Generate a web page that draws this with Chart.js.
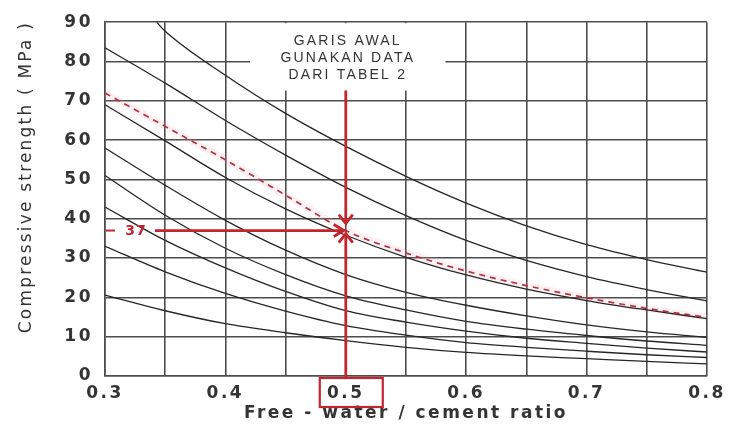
<!DOCTYPE html>
<html>
<head>
<meta charset="utf-8">
<script src="https://cdn.jsdelivr.net/npm/chart.js@4/dist/chart.umd.min.js"></script>
<style>
  html, body { margin: 0; padding: 0; background: #fff; }
  #wrap { width: 729px; height: 424px; }
</style>
</head>
<body>
<div id="wrap"><canvas id="c" width="729" height="424"></canvas></div>
<script>
// ---- data ----
const wcRatio = [0.30, 0.35, 0.40, 0.45, 0.50, 0.55, 0.60, 0.65, 0.70, 0.75, 0.80];
const curveAStart = [0.343, 90];
const curveA = [null, 87.7, 76.5, 66.8, 58.4, 50.8, 44.0, 38.2, 33.4, 29.6, 26.4];
const curveB = [83.5, 74.5, 65.0, 56.2, 48.0, 40.8, 34.5, 29.4, 25.3, 22.0, 19.1];
const curveStart = [72.0, 63.5, 55.0, 46.0, 37.0, 31.3, 26.7, 23.0, 19.9, 17.2, 14.9];
const curveC = [69.0, 59.8, 50.5, 42.5, 35.8, 30.2, 25.7, 22.1, 19.2, 16.8, 14.6];
const curveE = [58.0, 48.5, 39.6, 32.0, 25.8, 21.3, 18.0, 15.3, 13.0, 11.2, 9.8];
const curveF = [51.0, 40.9, 32.5, 25.8, 20.4, 16.8, 13.9, 11.9, 10.3, 8.9, 7.8];
const curveG = [43.0, 34.5, 27.5, 21.5, 16.6, 13.7, 11.4, 9.6, 8.3, 7.1, 6.1];
const curveH = [33.0, 26.5, 21.0, 16.5, 12.8, 10.4, 8.5, 7.3, 6.3, 5.4, 4.7];
const curveI = [20.6, 16.6, 13.3, 11.0, 9.0, 7.3, 6.0, 5.1, 4.4, 3.7, 3.1];
const xTickValues = [0.3, 0.4, 0.5, 0.6, 0.7, 0.8];
const xTickLabels = ['0.3', '0.4', '0.5', '0.6', '0.7', '0.8'];
const noteLines = ['GARIS AWAL', 'GUNAKAN DATA', 'DARI TABEL 2'];
const targetRatio = 0.5;
const readStrength = 37;
const readLabel = '37';

// ---- helpers ----
function toPoints(xs, ys) {
  const pts = [];
  xs.forEach((x, i) => { if (ys[i] !== null) pts.push({x: x, y: ys[i]}); });
  return pts;
}
const solid = (pts) => ({
  data: pts, borderColor: '#262626', borderWidth: 1.3, pointRadius: 0,
  cubicInterpolationMode: 'monotone', fill: false
});

const aPts = [{x: curveAStart[0], y: curveAStart[1]}].concat(toPoints(wcRatio, curveA));
const datasets = [
  solid(aPts),
  solid(toPoints(wcRatio, curveB)),
  {
    data: toPoints(wcRatio, curveStart), borderColor: '#b23340', borderWidth: 1.7,
    borderDash: [6, 5], pointRadius: 0, cubicInterpolationMode: 'monotone', fill: false
  },
  solid(toPoints(wcRatio, curveC)),
  solid(toPoints(wcRatio, curveE)),
  solid(toPoints(wcRatio, curveF)),
  solid(toPoints(wcRatio, curveG)),
  solid(toPoints(wcRatio, curveH)),
  solid(toPoints(wcRatio, curveI))
];

const RED = '#c3262e';
const TXT = '#343434';
const GRID = '#4d4d4d';

const spacingPlugin = {
  id: 'spacing',
  beforeDraw(chart) {
    const ctx = chart.ctx;
    ctx.letterSpacing = '2.5px';
    const ys = chart.scales.y;
    if (!ys.__wrapped) {
      const orig = ys.drawTitle;
      ys.drawTitle = function () {
        ctx.save();
        ctx.letterSpacing = '2.2px';
        ctx.translate(0, -22);
        orig.call(this);
        ctx.restore();
      };
      ys.__wrapped = true;
    }
  },
  beforeDatasetsDraw(chart) {
    const {ctx, scales: {x, y}} = chart;
    // white label panel that interrupts the grid
    const left = x.getPixelForValue(0.4205);
    const right = x.getPixelForValue(0.5828);
    const top = chart.chartArea.top + 1;
    const bottom = y.getPixelForValue(72.6);
    ctx.save();
    ctx.fillStyle = '#ffffff';
    ctx.fillRect(left, top, right - left, bottom - top);
    // faint pink band along the starting curve
    const pts = chart.getDatasetMeta(2).data;
    ctx.strokeStyle = 'rgba(235, 150, 160, 0.14)';
    ctx.lineWidth = 7;
    ctx.lineJoin = 'round';
    ctx.beginPath();
    pts.forEach((p, i) => { if (i === 0) ctx.moveTo(p.x, p.y); else ctx.lineTo(p.x, p.y); });
    ctx.stroke();
    ctx.restore();
  },
  afterDraw(chart) {
    const {ctx, scales: {x, y}, chartArea} = chart;
    const xp = x.getPixelForValue(targetRatio);
    const yp = y.getPixelForValue(readStrength);
    const topY = y.getPixelForValue(72.6);
    ctx.save();
    // note text
    ctx.letterSpacing = '2.2px';
    ctx.font = '14px "Liberation Sans", Arial, sans-serif';
    ctx.fillStyle = TXT;
    ctx.textAlign = 'center';
    ctx.textBaseline = 'middle';
    noteLines.forEach((t, i) => ctx.fillText(t, xp + 2, chartArea.top + 19 + i * 17));

    // red guide lines
    ctx.strokeStyle = RED;
    ctx.lineWidth = 2.8;
    ctx.lineCap = 'butt';
    ctx.lineJoin = 'miter';
    const tipD = yp - 7;
    ctx.beginPath(); ctx.moveTo(xp, topY); ctx.lineTo(xp, tipD - 1); ctx.stroke();
    ctx.beginPath(); ctx.moveTo(xp - 7, tipD - 9); ctx.lineTo(xp, tipD); ctx.lineTo(xp + 7, tipD - 9); ctx.stroke();
    const tipH = xp - 2;
    ctx.beginPath(); ctx.moveTo(155, yp); ctx.lineTo(tipH - 1, yp); ctx.stroke();
    ctx.beginPath(); ctx.moveTo(tipH - 10, yp - 6); ctx.lineTo(tipH, yp); ctx.lineTo(tipH - 10, yp + 6); ctx.stroke();
    const tipU = yp + 3;
    const boxTop = chartArea.bottom + 2;
    ctx.beginPath(); ctx.moveTo(xp, boxTop); ctx.lineTo(xp, tipU + 1); ctx.stroke();
    ctx.beginPath(); ctx.moveTo(xp - 7, tipU + 9); ctx.lineTo(xp, tipU); ctx.lineTo(xp + 7, tipU + 9); ctx.stroke();
    // read value label
    ctx.lineWidth = 2;
    ctx.beginPath(); ctx.moveTo(chartArea.left + 1, yp); ctx.lineTo(chartArea.left + 10, yp); ctx.stroke();
    ctx.letterSpacing = '1px';
    ctx.font = 'bold 14px "DejaVu Sans", sans-serif';
    ctx.fillStyle = RED;
    ctx.fillText(readLabel, 136, yp + 1);
    // box around the 0.5 tick label
    ctx.lineWidth = 2.2;
    ctx.strokeRect(xp - 26, boxTop, 63, 29);
    ctx.restore();
    ctx.letterSpacing = '0px';
  }
};

const tickFont = {family: '"DejaVu Sans", sans-serif', size: 17, weight: 'bold'};

new Chart(document.getElementById('c'), {
  type: 'line',
  data: {datasets: datasets},
  plugins: [spacingPlugin],
  options: {
    responsive: false,
    animation: false,
    events: [],
    layout: {padding: {top: 18, right: 21, left: 0, bottom: 0}, autoPadding: false},
    plugins: {legend: {display: false}, tooltip: {enabled: false}},
    scales: {
      x: {
        type: 'linear', min: 0.3, max: 0.8,
        afterFit: (s) => { s.height = 48; },
        ticks: {
          stepSize: 0.05, autoSkip: false, maxRotation: 0, padding: 7,
          font: tickFont, color: TXT,
          callback: (v) => {
            const i = xTickValues.findIndex(t => Math.abs(t - v) < 1e-6);
            return i >= 0 ? xTickLabels[i] : '';
          }
        },
        grid: {color: GRID, lineWidth: 1.6, drawTicks: false},
        border: {display: true, color: GRID, width: 1.6},
        title: {
          display: true, text: 'Free - water / cement ratio', color: TXT,
          font: tickFont, padding: {top: 0, bottom: 0}
        }
      },
      y: {
        type: 'linear', min: 0, max: 90,
        afterFit: (s) => { s.width = 105; },
        ticks: {stepSize: 10, padding: 12, font: tickFont, color: TXT},
        grid: {color: GRID, lineWidth: 1.6, drawTicks: false},
        border: {display: true, color: GRID, width: 1.6},
        title: {
          display: true, text: 'Compressive strength ( MPa )', color: TXT,
          font: {family: '"DejaVu Sans", sans-serif', size: 17},
          padding: {top: 16, bottom: 0}
        }
      }
    }
  }
});
</script>
</body>
</html>
